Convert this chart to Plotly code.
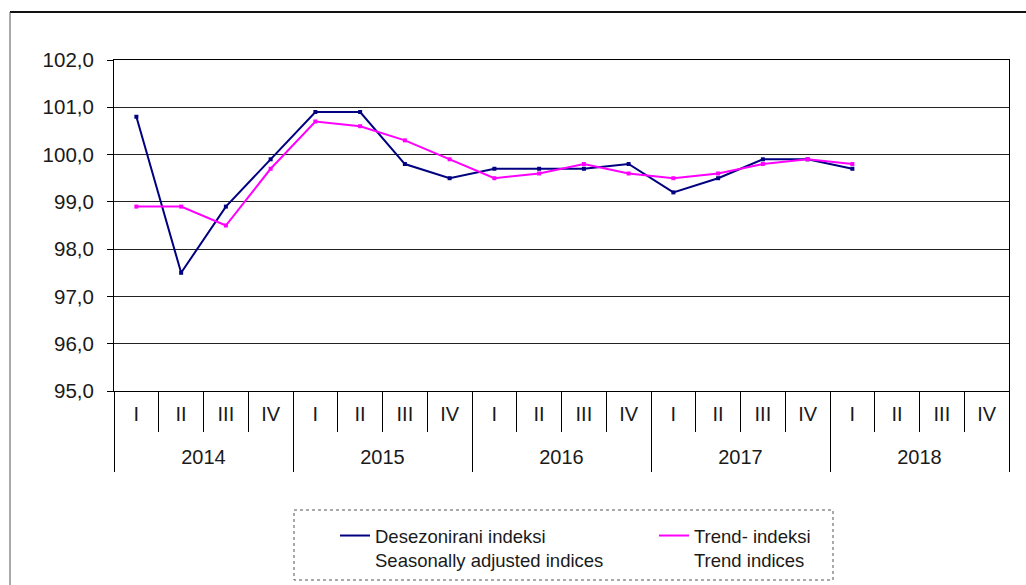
import plotly.graph_objects as go

# ---- data ----
years = ["2014", "2015", "2016", "2017", "2018"]
quarters = ["I", "II", "III", "IV"]
seasonally_adjusted = [100.8, 97.5, 98.9, 99.9,
                       100.9, 100.9, 99.8, 99.5,
                       99.7, 99.7, 99.7, 99.8,
                       99.2, 99.5, 99.9, 99.9,
                       99.7]
trend = [98.9, 98.9, 98.5, 99.7,
         100.7, 100.6, 100.3, 99.9,
         99.5, 99.6, 99.8, 99.6,
         99.5, 99.6, 99.8, 99.9,
         99.8]
y_min, y_max, y_step = 95, 102, 1
name_sa = "Desezonirani indeksi<br>Seasonally adjusted indices"
name_trend = "Trend- indeksi<br>Trend indices"

periods = [f"{y} {q}" for y in years for q in quarters]
n = len(periods)
nq = len(quarters)

W, H = 1026, 585
L, R, T, B = 114, 17, 60, 194
pw, ph = W - L - R, H - T - B

FONT = "Liberation Sans, Arial, sans-serif"
TXT = "#1a1a1a"
NAVY = "#000080"
MAGENTA = "#FF00FF"

fig = go.Figure()
for vals, name, col in ((seasonally_adjusted, name_sa, NAVY), (trend, name_trend, MAGENTA)):
    xs = periods[:len(vals)]
    # line (shown in legend)
    fig.add_trace(go.Scatter(x=xs, y=vals, name=name, mode="lines",
                             line=dict(color=col, width=2), legendgroup=name))
    # small square point markers
    fig.add_trace(go.Scatter(x=xs, y=vals, name=name, mode="markers", showlegend=False,
                             marker=dict(symbol="square", size=4, color=col),
                             legendgroup=name))

# empty helper traces so that the overlay axes (dividers, year labels) are drawn
for ax in ("x2", "x3", "x4"):
    fig.add_trace(go.Scatter(x=[], y=[], xaxis=ax, yaxis="y", showlegend=False,
                             hoverinfo="skip", mode="lines"))

boundaries = [i - 0.5 for i in range(n + 1)]
year_bounds = [i * nq - 0.5 for i in range(len(years) + 1)]
year_centers = [i * nq + (nq - 1) / 2 for i in range(len(years))]

fig.update_layout(
    width=W, height=H, autosize=False,
    margin=dict(l=L, r=R, t=T, b=B, pad=0, autoexpand=False),
    paper_bgcolor="white", plot_bgcolor="white",
    separators=",.",
    font=dict(family=FONT, size=19, color=TXT),
    showlegend=True,
    legend=dict(
        orientation="h", x=(335 - L) / pw, xanchor="left",
        y=(H - B - 517) / ph, yanchor="top",
        valign="top", entrywidth=274, entrywidthmode="pixels",
        font=dict(family=FONT, size=18.5, color=TXT),
        bgcolor="rgba(0,0,0,0)", borderwidth=0,
    ),
    xaxis=dict(
        type="category", categoryorder="array", categoryarray=periods,
        range=[-0.5, n - 0.5], tickvals=periods, ticktext=quarters * len(years),
        ticks="", showgrid=False, showline=True, linecolor="black", linewidth=1,
        mirror=True, ticklabelstandoff=5, zeroline=False, automargin=False,
        tickfont=dict(family=FONT, size=20, color=TXT),
    ),
    xaxis2=dict(
        overlaying="x", anchor="y", side="bottom", type="linear",
        range=[-0.5, n - 0.5], tickvals=boundaries, ticks="outside", ticklen=40,
        tickcolor="black", tickwidth=1, showticklabels=False, showgrid=False,
        zeroline=False, showline=False, automargin=False,
    ),
    xaxis3=dict(
        overlaying="x", anchor="y", side="bottom", type="linear",
        range=[-0.5, n - 0.5], tickvals=year_bounds, ticks="outside", ticklen=80,
        tickcolor="black", tickwidth=1, showticklabels=False, showgrid=False,
        zeroline=False, showline=False, automargin=False,
    ),
    xaxis4=dict(
        overlaying="x", anchor="y", side="bottom", type="linear",
        range=[-0.5, n - 0.5], tickvals=year_centers, ticktext=years,
        ticks="", showgrid=False, zeroline=False, showline=False, automargin=False,
        ticklabelstandoff=52, tickfont=dict(family=FONT, size=20, color=TXT),
    ),
    yaxis=dict(
        range=[y_min, y_max], dtick=y_step, tick0=y_min, tickformat=".1f",
        ticks="outside", ticklen=6, tickcolor="black", tickwidth=1,
        showgrid=True, gridcolor="#222", gridwidth=1,
        showline=True, linecolor="black", linewidth=1, mirror=True,
        zeroline=False, automargin=False, ticklabelstandoff=9,
        tickfont=dict(family=FONT, size=20.5, color=TXT),
    ),
    shapes=[
        # outer chart frame (top and left)
        dict(type="line", xref="paper", yref="paper",
             x0=(10 - L) / pw, x1=(W - L) / pw, y0=(H - B - 12) / ph, y1=(H - B - 12) / ph,
             line=dict(color="#111", width=2)),
        dict(type="line", xref="paper", yref="paper",
             x0=(10 - L) / pw, x1=(10 - L) / pw, y0=(H - B - 12) / ph, y1=(H - B - H) / ph,
             line=dict(color="#555", width=1)),
        # dotted legend box
        dict(type="rect", xref="paper", yref="paper",
             x0=(294 - L) / pw, x1=(833 - L) / pw,
             y0=(H - B - 510) / ph, y1=(H - B - 580) / ph,
             line=dict(color="#555", width=1, dash="dot")),
    ],
)

fig.write_html("out.html", config={"displayModeBar": False},
               post_script="document.body.style.margin='0';")
